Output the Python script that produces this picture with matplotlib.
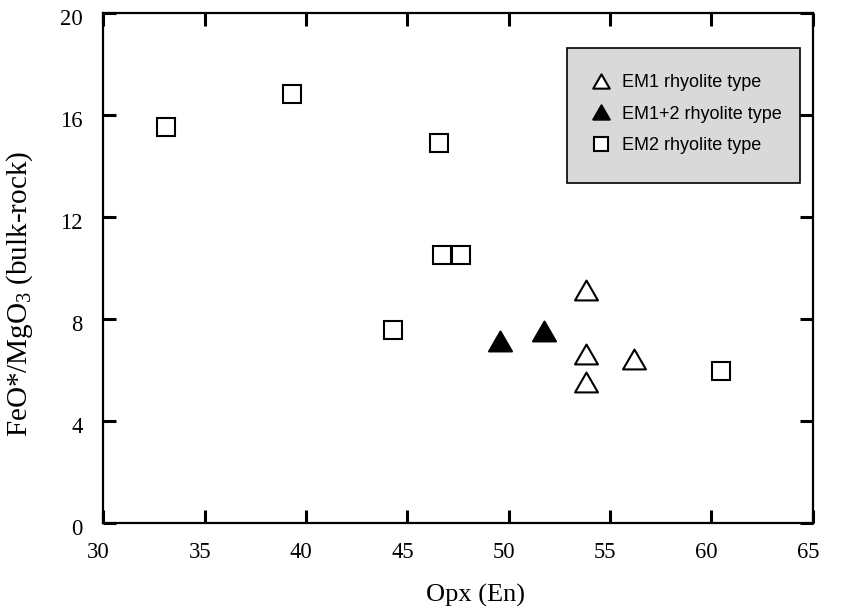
import matplotlib
matplotlib.use("Agg")
import matplotlib.pyplot as plt
from matplotlib.path import Path
from matplotlib.patches import Rectangle
from matplotlib.transforms import ScaledTranslation

# ---- data -------------------------------------------------------------
em1_x = [53.8, 53.8, 53.8, 56.2]
em1_y = [9.14, 6.63, 5.53, 6.43]

em12_x = [49.55, 51.73]
em12_y = [7.14, 7.53]

em2_x = [33.1, 39.3, 44.3, 46.55, 46.7, 47.65, 60.5]
em2_y = [15.53, 16.83, 7.59, 14.91, 10.52, 10.52, 5.98]

series_labels = ["EM1 rhyolite type", "EM1+2 rhyolite type", "EM2 rhyolite type"]
x_ticks = [30, 35, 40, 45, 50, 55, 60, 65]
y_ticks = [0, 4, 8, 12, 16, 20]

# ---- style ------------------------------------------------------------
plt.rcParams["font.family"] = ["Liberation Serif", "DejaVu Serif"]
plt.rcParams["mathtext.fontset"] = "custom"
plt.rcParams["mathtext.rm"] = "Liberation Serif"
plt.rcParams["mathtext.it"] = "Liberation Serif:italic"

# equilateral triangle marker
tri = Path([(0, 0.433), (-0.5, -0.433), (0.5, -0.433), (0, 0.433)], closed=True)

fig = plt.figure(figsize=(8.46, 6.11), dpi=100)
ax = fig.add_axes([0.1223, 0.1435, 0.8383, 0.8347])

ax.plot(em1_x, em1_y, linestyle="none", marker=tri, markersize=16.5,
        markerfacecolor="white", markeredgecolor="black", markeredgewidth=1.5,
        label=series_labels[0], zorder=3)
ax.plot(em12_x, em12_y, linestyle="none", marker=tri, markersize=16.5,
        markerfacecolor="black", markeredgecolor="black", markeredgewidth=1.5,
        label=series_labels[1], zorder=3)
ax.plot(em2_x, em2_y, linestyle="none", marker="s", markersize=13.3,
        markerfacecolor="white", markeredgecolor="black", markeredgewidth=1.5,
        label=series_labels[2], zorder=3)

ax.set_xlim(30, 65)
ax.set_ylim(0, 20)
ax.set_xticks(x_ticks)
ax.set_yticks(y_ticks)

for s in ax.spines.values():
    s.set_linewidth(1.6)

ax.tick_params(axis="both", which="major", direction="in", length=9.6, width=2.2,
               top=True, right=True, labelsize=16.3, colors="black")
ax.tick_params(axis="x", pad=13.5)
ax.tick_params(axis="y", pad=15)

# nudge tick labels slightly as set in the layout
for lab in ax.get_xticklabels():
    lab.set_transform(lab.get_transform() + ScaledTranslation(-3.5 / 72, 0, fig.dpi_scale_trans))
for lab in ax.get_yticklabels():
    lab.set_transform(lab.get_transform() + ScaledTranslation(0, -3 / 72, fig.dpi_scale_trans))

ax.set_xlabel("Opx (En)", fontsize=19)
ax.set_ylabel(r"FeO*/MgO$_3$ (bulk-rock)", fontsize=21)
ax.xaxis.set_label_coords(0.524, -0.119)
ax.yaxis.set_label_coords(-0.097, 0.45)

# legend panel
ax.add_patch(Rectangle((0.654, 0.6678), 0.328, 0.2636, transform=ax.transAxes,
                       facecolor="#d9d9d9", edgecolor="black", linewidth=1.2,
                       zorder=4))
leg = ax.legend(loc="upper left", bbox_to_anchor=(0.663, 0.899), frameon=False,
                borderpad=0, handlelength=2.0, handletextpad=0.15,
                labelspacing=0.82, markerscale=0.72, numpoints=1,
                prop={"family": ["Liberation Sans", "DejaVu Sans"], "size": 13})
leg.set_zorder(5)

fig.savefig("out.png", dpi=100)
